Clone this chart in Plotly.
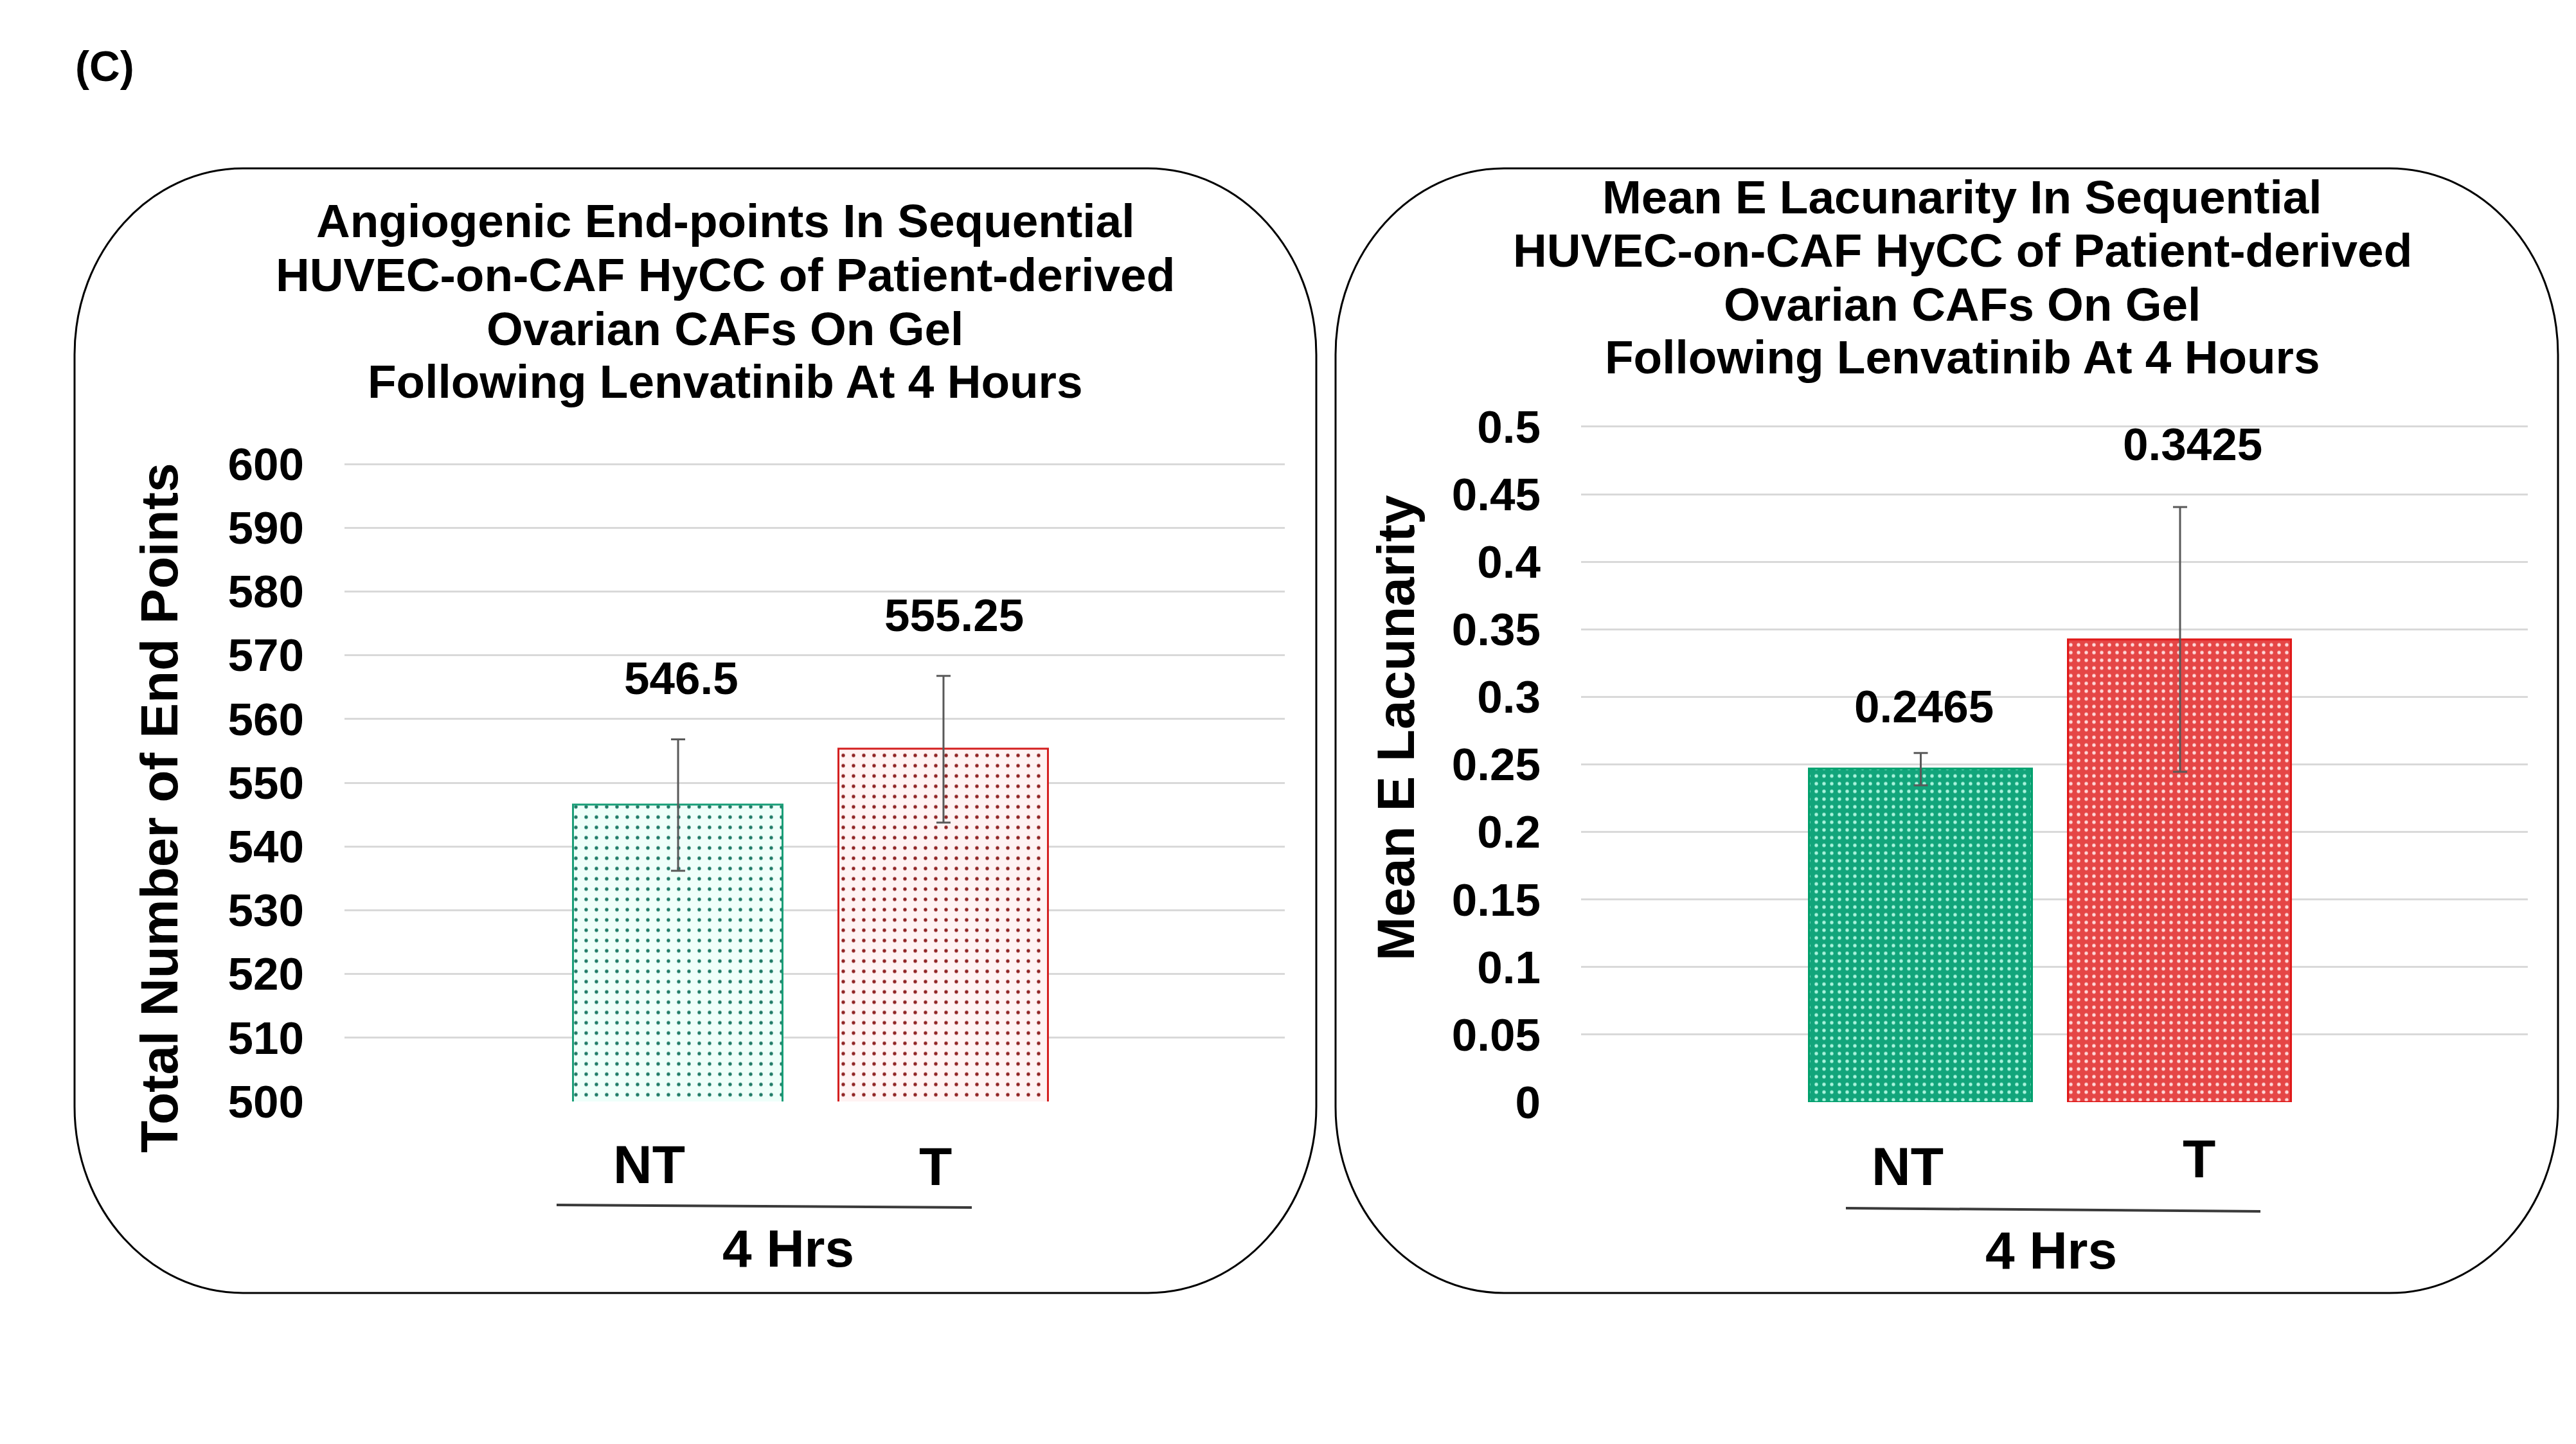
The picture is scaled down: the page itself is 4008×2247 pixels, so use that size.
import plotly.graph_objects as go

# ---------------- data ----------------
categories = ["NT", "T"]
group_label = "4 Hrs"
endpoints_mean = [546.5, 555.25]
endpoints_err = [10.3, 11.5]
endpoints_text = ["546.5", "555.25"]
lacunarity_mean = [0.2465, 0.3425]
lacunarity_err = [0.012, 0.098]
lacunarity_text = ["0.2465", "0.3425"]
title_left = ["Angiogenic End-points In Sequential",
              "HUVEC-on-CAF HyCC of Patient-derived",
              "Ovarian CAFs On Gel",
              "Following Lenvatinib At 4 Hours"]
title_right = ["Mean E Lacunarity In Sequential",
               "HUVEC-on-CAF HyCC of Patient-derived",
               "Ovarian CAFs On Gel",
               "Following Lenvatinib At 4 Hours"]
ytitle_left = "Total Number of End Points"
ytitle_right = "Mean E Lacunarity"
panel_label = "(C)"
left_range = [500, 600]
left_dtick = 10
right_range = [0, 0.5]
right_dtick = 0.05

# ---------------- layout helpers ----------------
W, H = 4008, 2247
FONT = "Liberation Sans, Arial, Helvetica, sans-serif"


def px(x):
    return x / W


def py(y):
    return 1 - y / H


fig = go.Figure()

left_styles = [
    dict(line="#1a9e78", fg="#1f7a66", bg="#effffa"),
    dict(line="#d42020", fg="#8e2222", bg="#fff3f3"),
]
right_styles = [
    dict(line="#00a06c", fg="#a9f4dd", bg="#12a57b"),
    dict(line="#e01818", fg="#ffd8d8", bg="#e54646"),
]

for i, cat in enumerate(categories):
    s = left_styles[i]
    fig.add_trace(go.Bar(
        x=[cat], y=[endpoints_mean[i]], width=0.79,
        xaxis="x", yaxis="y", showlegend=False,
        marker=dict(color=s["bg"], line=dict(color=s["line"], width=3),
                    pattern=dict(shape=".", fgcolor=s["fg"], bgcolor=s["bg"],
                                 size=16, solidity=0.09, fillmode="replace")),
        error_y=dict(type="data", array=[endpoints_err[i]], visible=True,
                     color="#595959", thickness=3, width=11),
    ))
    s = right_styles[i]
    fig.add_trace(go.Bar(
        x=[cat], y=[lacunarity_mean[i]], width=0.86,
        xaxis="x2", yaxis="y2", showlegend=False,
        marker=dict(color=s["bg"], line=dict(color=s["line"], width=3),
                    pattern=dict(shape=".", fgcolor=s["fg"], bgcolor=s["bg"],
                                 size=12, solidity=0.16, fillmode="replace")),
        error_y=dict(type="data", array=[lacunarity_err[i]], visible=True,
                     color="#595959", thickness=3, width=11),
    ))

tickfont = dict(family=FONT, size=71, color="#000000", weight="bold")
grid = dict(showgrid=True, gridcolor="#d9d9d9", gridwidth=3, zeroline=False,
            showline=False, ticks="", tickfont=tickfont, ticklabelstandoff=62,
            automargin=False)

L_BOT, L_PPU = 1714, 9.92
R_BOT, R_PPU = 1715, 2102.0
l_top_val = left_range[1] + 0.25
r_top_val = right_range[1] + 0.0012
l_top_px = L_BOT - (l_top_val - left_range[0]) * L_PPU
r_top_px = R_BOT - (r_top_val - right_range[0]) * R_PPU

fig.update_layout(
    width=W, height=H,
    margin=dict(l=0, r=0, t=0, b=0, autoexpand=False),
    paper_bgcolor="white", plot_bgcolor="white",
    bargap=0,
    xaxis=dict(domain=[px(536), px(1999)], type="category",
               categoryorder="array", categoryarray=categories,
               range=[-1.257, 2.286], showticklabels=False, showgrid=False,
               zeroline=False, showline=False, ticks="", anchor="y",
               automargin=False),
    yaxis=dict(domain=[py(L_BOT), py(l_top_px)],
               range=[left_range[0], l_top_val], tick0=left_range[0],
               dtick=left_dtick, anchor="x", **grid),
    xaxis2=dict(domain=[px(2460), px(3933)], type="category",
                categoryorder="array", categoryarray=categories,
                range=[-1.31, 2.341], showticklabels=False, showgrid=False,
                zeroline=False, showline=False, ticks="", anchor="y2",
                automargin=False),
    yaxis2=dict(domain=[py(R_BOT), py(r_top_px)],
                range=[right_range[0], r_top_val], tick0=right_range[0],
                dtick=right_dtick, anchor="x2", **grid),
)

ann = []


def txt(text, x, y, size, xref="paper", yref="paper", angle=0, xshift=0, yshift=0):
    ann.append(dict(text="<b>" + text + "</b>", x=x, y=y, xref=xref, yref=yref,
                    xanchor="center", yanchor="middle", showarrow=False,
                    textangle=angle, xshift=xshift, yshift=yshift,
                    font=dict(family=FONT, size=size, color="#000000")))


txt(panel_label, px(163), py(103), 66)

for line, yy in zip(title_left, [344, 427, 511, 593]):
    txt(line, px(1128), py(yy), 73)
for line, yy in zip(title_right, [307, 389, 473, 556]):
    txt(line, px(3053), py(yy), 73)

txt(ytitle_left, px(247), py(1257), 82, angle=-90)
txt(ytitle_right, px(2171), py(1133), 82, angle=-90)

left_label_shift = [(5, 95), (17, 94)]
right_label_shift = [(5, 72), (20, 98)]
for i, cat in enumerate(categories):
    txt(endpoints_text[i], cat, endpoints_mean[i] + endpoints_err[i], 71,
        xref="x", yref="y", xshift=left_label_shift[i][0],
        yshift=left_label_shift[i][1])
    txt(lacunarity_text[i], cat, lacunarity_mean[i] + lacunarity_err[i], 71,
        xref="x2", yref="y2", xshift=right_label_shift[i][0],
        yshift=right_label_shift[i][1])

left_cat_shift = [-45, -12]
right_cat_shift = [-21, 30]
left_cat_y = [1812, 1815]
right_cat_y = [1815, 1803]
for i, cat in enumerate(categories):
    txt(cat, cat, py(left_cat_y[i]), 84, xref="x", xshift=left_cat_shift[i])
    txt(cat, cat, py(right_cat_y[i]), 84, xref="x2", xshift=right_cat_shift[i])
txt(group_label, px(1226), py(1942), 82)
txt(group_label, px(3191), py(1945), 82)

fig.update_layout(annotations=ann)

shapes = [
    dict(type="line", xref="paper", yref="paper", x0=px(866), x1=px(1512),
         y0=py(1875), y1=py(1879), line=dict(color="#3a3a3a", width=4)),
    dict(type="line", xref="paper", yref="paper", x0=px(2872), x1=px(3517),
         y0=py(1880), y1=py(1885), line=dict(color="#3a3a3a", width=4)),
]


def rounded(x0, y0, x1, y1, rx, ry):
    k = 0.5523
    pts = [
        f"M {px(x0 + rx)} {py(y0)}",
        f"L {px(x1 - rx)} {py(y0)}",
        f"C {px(x1 - rx + k * rx)} {py(y0)} {px(x1)} {py(y0 + ry - k * ry)} {px(x1)} {py(y0 + ry)}",
        f"L {px(x1)} {py(y1 - ry)}",
        f"C {px(x1)} {py(y1 - ry + k * ry)} {px(x1 - rx + k * rx)} {py(y1)} {px(x1 - rx)} {py(y1)}",
        f"L {px(x0 + rx)} {py(y1)}",
        f"C {px(x0 + rx - k * rx)} {py(y1)} {px(x0)} {py(y1 - ry + k * ry)} {px(x0)} {py(y1 - ry)}",
        f"L {px(x0)} {py(y0 + ry)}",
        f"C {px(x0)} {py(y0 + ry - k * ry)} {px(x0 + rx - k * rx)} {py(y0)} {px(x0 + rx)} {py(y0)} Z",
    ]
    return " ".join(pts)


shapes.append(dict(type="path", xref="paper", yref="paper", layer="below",
                   path=rounded(116, 262, 2048, 2012, 262, 290),
                   line=dict(color="#000000", width=3)))
shapes.append(dict(type="path", xref="paper", yref="paper", layer="below",
                   path=rounded(2078, 262, 3980, 2012, 262, 290),
                   line=dict(color="#000000", width=3)))
fig.update_layout(shapes=shapes)

fig.write_html("out.html", config={"displayModeBar": False},
               post_script="document.body.style.margin='0';")
